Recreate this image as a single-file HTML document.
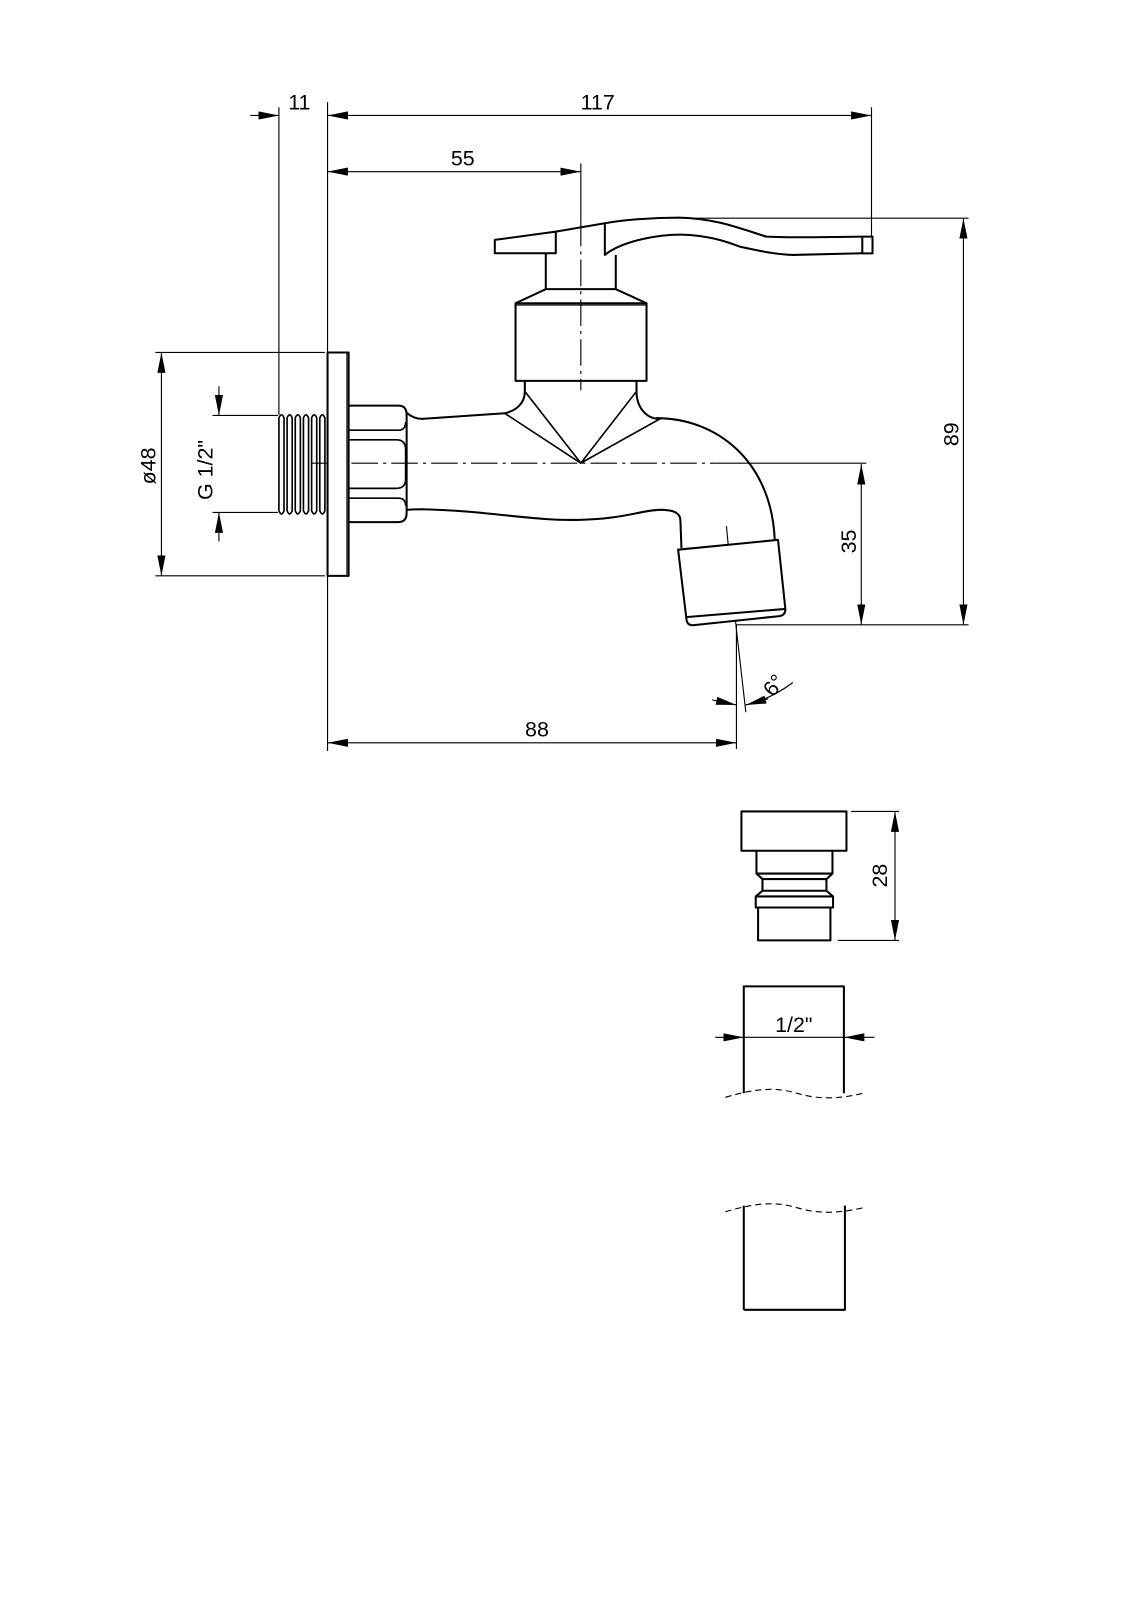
<!DOCTYPE html>
<html><head><meta charset="utf-8"><style>
html,body{margin:0;padding:0;background:#fff;}
svg{display:block;}
text{font-family:"Liberation Sans Narrow","Liberation Sans",sans-serif;font-size:21px;fill:#000;}
</style></head><body>
<svg width="1131" height="1600" viewBox="0 0 1107 1566" preserveAspectRatio="none" xmlns="http://www.w3.org/2000/svg">
<defs>
<marker id="a" viewBox="0 0 20 8" refX="20" refY="4" markerWidth="20" markerHeight="8" markerUnits="userSpaceOnUse" orient="auto-start-reverse"><path d="M0,0 L20,4 L0,8 Z" fill="#000"/></marker>
</defs>
<g fill="none" stroke="#000" stroke-width="1.1">
<line x1="273" y1="105" x2="273" y2="406"/>
<line x1="320.6" y1="100" x2="320.6" y2="735"/>
<line x1="853" y1="105" x2="853" y2="232"/>
<line x1="568.5" y1="160" x2="568.5" y2="215"/>
<line x1="680" y1="213.6" x2="948" y2="213.6"/>
<line x1="720" y1="611.5" x2="948" y2="611.5"/>
<line x1="700" y1="453.3" x2="848" y2="453.3"/>
<line x1="152" y1="345" x2="318" y2="345"/>
<line x1="152" y1="563.6" x2="318" y2="563.6"/>
<line x1="208" y1="406.6" x2="272" y2="406.6"/>
<line x1="208" y1="501.6" x2="272" y2="501.6"/>
<line x1="720.8" y1="612" x2="720.8" y2="733"/>
<line x1="720.8" y1="616.4" x2="730" y2="697"/>
<line x1="245" y1="113" x2="273" y2="113" marker-end="url(#a)"/>
<line x1="320.6" y1="113" x2="853" y2="113" marker-start="url(#a)" marker-end="url(#a)"/>
<line x1="320.6" y1="168" x2="568.5" y2="168" marker-start="url(#a)" marker-end="url(#a)"/>
<line x1="943" y1="213.6" x2="943" y2="611.5" marker-start="url(#a)" marker-end="url(#a)"/>
<line x1="843" y1="454.3" x2="843" y2="611.5" marker-start="url(#a)" marker-end="url(#a)"/>
<line x1="158" y1="345" x2="158" y2="563.6" marker-start="url(#a)" marker-end="url(#a)"/>
<line x1="214.3" y1="378" x2="214.3" y2="406.6" marker-end="url(#a)"/>
<line x1="214.3" y1="530" x2="214.3" y2="501.6" marker-end="url(#a)"/>
<line x1="320.6" y1="727" x2="720.8" y2="727" marker-start="url(#a)" marker-end="url(#a)"/>
<line x1="697" y1="685" x2="720.8" y2="690" marker-end="url(#a)"/>
<path d="M730,690 Q755,684 776,668"/>
<line x1="752" y1="684" x2="730" y2="690" marker-end="url(#a)"/>
<line x1="305" y1="453.3" x2="700" y2="453.3" stroke-dasharray="26 5 3 5"/>
<line x1="711" y1="515" x2="720.8" y2="616.4" stroke-dasharray="26 5 3 5"/>
</g>
<g fill="none" stroke="#000" stroke-width="2" stroke-linejoin="round">
<rect x="320.6" y="345" width="20.6" height="218.6" fill="#fff"/>
<line x1="339.5" y1="346" x2="339.5" y2="562.6" stroke-width="1"/>
<g stroke-width="1.6">
<path d="M273,409 Q275.5,403 278,409 L278,500 Q275.5,506 273,500 Z"/>
<path d="M281,409 Q283.5,403 286,409 L286,500 Q283.5,506 281,500 Z"/>
<path d="M289,409 Q291.5,403 294,409 L294,500 Q291.5,506 289,500 Z"/>
<path d="M297,409 Q299.5,403 302,409 L302,500 Q299.5,506 297,500 Z"/>
<path d="M305,409 Q307.5,403 310,409 L310,500 Q307.5,506 305,500 Z"/>
<path d="M313,409 Q315.5,403 318,409 L318,500 Q315.5,506 313,500 Z"/>
</g>
<path d="M341,397 H390 Q398,397 398,406 V502 Q398,511 390,511 H341"/>
<path d="M341,421 H390 Q397,421 397,413" stroke-width="1.6"/>
<path d="M341,430.5 H388 Q397,430.5 397,440 V469 Q397,478 388,478 H341" stroke-width="1.6"/>
<path d="M341,487.6 H390 Q397,487.6 397,495" stroke-width="1.6"/>
<path d="M398,404 Q405,410 413,410 L494,404.5 C505,402 513.7,395 513.7,383 V372.8"/>
<path d="M623,372.8 V383 C623,398 632,410 645.8,410 L642.5,409.3 C700,409 755,450 758.3,528.4"/>
<path d="M398,499 Q405,498.4 413,498.4 C480,500 520,510 567.5,508.8 C610,508 630,499 645.8,499 C658,499 666,501 666,510 L667,536.5"/>
<path d="M513.7,383 L568.5,453.3 L623,383 M494,404.5 L568.5,453.3 L645.8,410" stroke-width="1.6"/>
<rect x="504.6" y="296.8" width="128.2" height="76" fill="#fff"/>
<line x1="504.6" y1="298.5" x2="632.8" y2="298.5" stroke-width="1.2"/>
<path d="M504.6,296.8 L534.2,283 H602.7 L632.8,296.8"/>
<path d="M534.2,283 V247.9 M602.7,283 V249.5"/>
<path d="M484.3,234.8 L544,226.7 V247.9 H484.3 Z"/>
<path d="M544,226.7 L592,218.5 C610,215 640,213 665,213 C700,214 720,222 750,231.6 C780,233 815,232 844,231.6"/>
<path d="M592,218.5 V249.5 C610,235 650,228 675,230 C700,232 715,238 724,241.4 C745,246 760,249 776,249.5 L844,247.9"/>
<rect x="844" y="231.6" width="10" height="16.4"/>
<path d="M663.7,538 L761.5,528.4 L768.7,596 Q769,602 763,603 L678,612 Q673,612 672,607 Z" fill="#fff"/>
<line x1="671.5" y1="604" x2="768.7" y2="596"/>
<rect x="725.7" y="794.2" width="102.8" height="38.5"/>
<path d="M740.4,832.7 V855 L746.3,860.4 V871.8 L739.7,877.4 V888.2 H815.4 V877.4 L808.9,871.8 V860.4 L814.8,855 V832.7"/>
<path d="M740.4,855 H814.8 M746.3,860.4 H808.9 M746.3,871.8 H808.9 M739.7,877.4 H815.4"/>
<rect x="742" y="888.2" width="70.8" height="32.2"/>
<path d="M728,1070 V965.4 H826 V1070"/>
<path d="M728,1282 V1180 M827,1180 V1282 H728"/>
</g>
<g fill="none" stroke="#000" stroke-width="1.1">
<line x1="568.5" y1="215" x2="568.5" y2="382" stroke-dasharray="26 5 3 5"/>
<line x1="833" y1="794.2" x2="880" y2="794.2"/>
<line x1="820" y1="920.4" x2="880" y2="920.4"/>
<line x1="876" y1="794.2" x2="876" y2="920.4" marker-start="url(#a)" marker-end="url(#a)"/>
<line x1="700" y1="1015.3" x2="728" y2="1015.3" marker-end="url(#a)"/>
<line x1="728" y1="1015.3" x2="826" y2="1015.3"/>
<line x1="856" y1="1015.3" x2="826" y2="1015.3" marker-end="url(#a)"/>
<path d="M710,1074 C740,1065 760,1064 780,1070 C800,1076 820,1076 845,1070" stroke-dasharray="6 4"/>
<path d="M710,1186 C740,1177 760,1176 780,1182 C800,1188 820,1188 845,1182" stroke-dasharray="6 4"/>
</g>
<g>
<text x="293" y="107" text-anchor="middle">11</text>
<text x="585" y="107" text-anchor="middle">117</text>
<text x="453" y="162" text-anchor="middle">55</text>
<text x="525.6" y="721" text-anchor="middle">88</text>
<text x="777" y="1010" text-anchor="middle">1/2"</text>
<text transform="translate(938,425) rotate(-90)" text-anchor="middle">89</text>
<text transform="translate(838,530) rotate(-90)" text-anchor="middle">35</text>
<text transform="translate(152,456) rotate(-90)" text-anchor="middle">ø48</text>
<text transform="translate(208,460) rotate(-90)" text-anchor="middle">G 1/2"</text>
<text transform="translate(868,857) rotate(-90)" text-anchor="middle">28</text>
<text transform="translate(763,675) rotate(-52)" text-anchor="middle">6°</text>
</g>
</svg>
</body></html>
